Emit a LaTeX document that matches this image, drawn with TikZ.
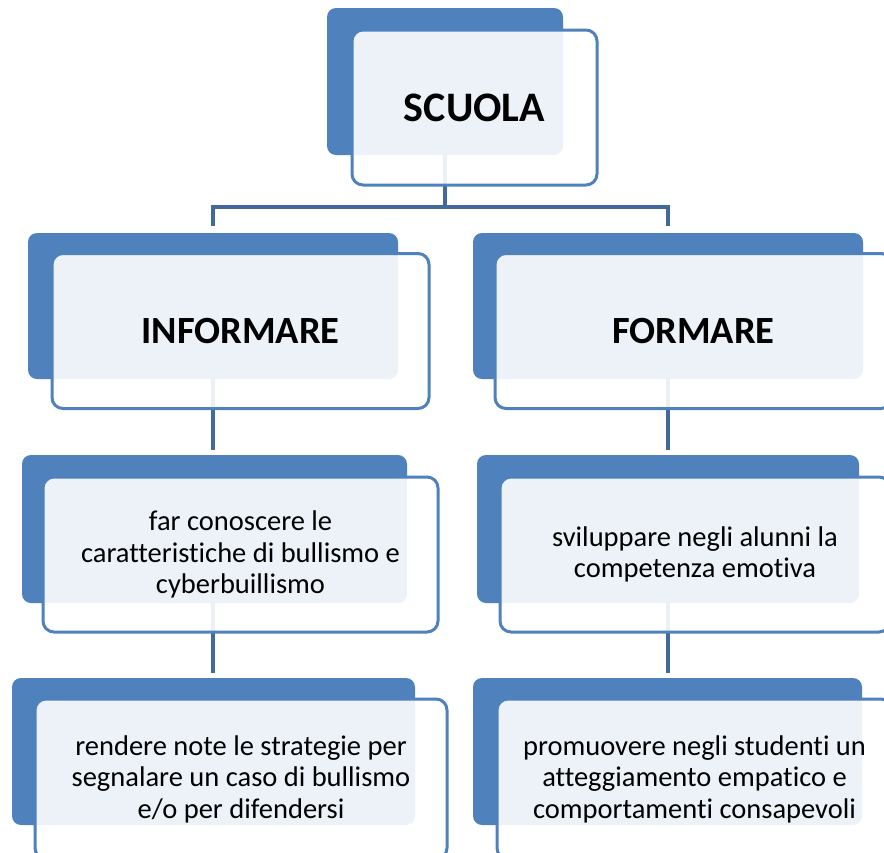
\documentclass[tikz,border=0pt]{standalone}
\usepackage{fontspec}
\setmainfont[Ligatures=NoCommon]{Carlito}
\usetikzlibrary{calc}
\pgfdeclarelayer{bg}
\pgfsetlayers{bg,main}
\definecolor{boxblue}{HTML}{4F81BD}
\definecolor{lineblue}{HTML}{41699B}
\tikzset{
  backbox/.style={fill=boxblue, rounded corners=9pt, inner sep=0pt},
  frontbox/.style={draw=boxblue, line width=3pt, fill=white, fill opacity=0.9, text opacity=1,
    rounded corners=11pt, inner sep=0pt, align=center, text=black},
  titletext/.style={font=\fontsize{38.5}{44}\selectfont\bfseries},
  bigtitle/.style={font=\fontsize{42}{48}\selectfont\bfseries},
  bodytext/.style={font=\fontsize{28.5}{31.5}\selectfont},
  conn/.style={draw=lineblue, line width=4pt},
}
\begin{document}
\begin{tikzpicture}[x=1pt,y=-1pt]
\useasboundingbox (0,0) rectangle (884,852);
\clip (0,0) rectangle (884,852);
% SCUOLA
\node[backbox, minimum width=236pt, minimum height=147pt] (sb) at (445,81.5) {};
\node[frontbox, bigtitle, minimum width=245pt, minimum height=155pt] (sf) at (474.5,107.5) {SCUOLA};
% INFORMARE
\node[backbox, minimum width=370pt, minimum height=146pt] (ib) at (213,306) {};
\node[frontbox, titletext, minimum width=377pt, minimum height=155pt] (if) at (240.5,331) {INFORMARE};
% FORMARE
\node[backbox, minimum width=390pt, minimum height=146pt] (fb) at (668,306) {};
\node[frontbox, titletext, minimum width=397pt, minimum height=155pt] (ff) at (693.5,331) {FORMARE};
% far conoscere
\node[backbox, minimum width=385pt, minimum height=148pt] (cb) at (214.5,529) {};
\node[frontbox, bodytext, minimum width=395pt, minimum height=155pt] (cf) at (240.5,554.5) {far conoscere le\\caratteristiche di bullismo e\\cyberbuillismo};
% sviluppare
\node[backbox, minimum width=382pt, minimum height=148pt] (vb) at (668,529) {};
\node[frontbox, bodytext, minimum width=390pt, minimum height=155pt] (vf) at (695,554.5) {sviluppare negli alunni la\\competenza emotiva};
% rendere note
\node[backbox, minimum width=403pt, minimum height=147pt] (rb) at (213.5,751.5) {};
\node[frontbox, bodytext, minimum width=412pt, minimum height=160pt] (rf) at (241,779) {rendere note le strategie per\\segnalare un caso di bullismo\\e/o per difendersi};
% promuovere
\node[backbox, minimum width=389pt, minimum height=147pt] (pb) at (667.5,751.5) {};
\node[frontbox, bodytext, minimum width=395pt, minimum height=160pt] (pf) at (694.5,779) {promuovere negli studenti un\\atteggiamento empatico e\\comportamenti consapevoli};
% connectors
\begin{pgfonlayer}{bg}
\coordinate (bar) at (445,207);
\draw[conn] (sb.center) -- (bar);
\draw[conn, shorten >=7pt] (bar) -| (ib.north -| ib.center);
\draw[conn, shorten >=7pt] (bar) -| (fb.north -| fb.center);
\draw[conn, shorten >=5pt] (ib.center) -- (ib.center |- cb.north);
\draw[conn, shorten >=5pt] (fb.center) -- (fb.center |- vb.north);
\draw[conn, shorten >=5pt] (ib.center |- cb.center) -- (ib.center |- rb.north);
\draw[conn, shorten >=5pt] (fb.center |- vb.center) -- (fb.center |- pb.north);
\end{pgfonlayer}
\end{tikzpicture}
\end{document}
